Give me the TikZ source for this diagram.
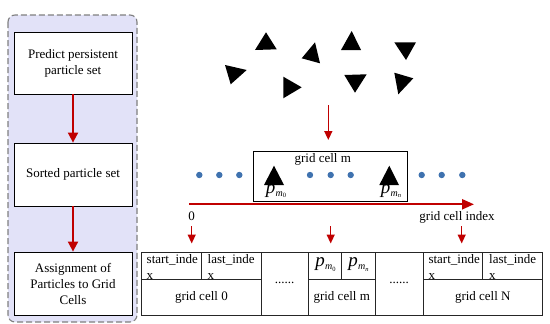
\documentclass[tikz,border=0pt]{standalone}
\usepackage{fontspec}
\setmainfont{Liberation Serif}
\usetikzlibrary{arrows.meta}
\definecolor{arrred}{HTML}{C00000}
\definecolor{panelfill}{HTML}{E2E2F8}
\definecolor{paneldash}{HTML}{7F7F7F}
\definecolor{dotblue}{HTML}{3F72AF}
\newcommand\pmlabel[1]{\textit{\fontsize{19}{19}\selectfont p}\kern0.3pt\raisebox{-3pt}{\textit{\fontsize{10}{10}\selectfont m}\kern0.2pt\raisebox{-1.5pt}{\fontsize{6.5}{6.5}\selectfont #1}}}
\begin{document}
\begin{tikzpicture}[x=1pt,y=-1pt,
  stepbox/.style={draw, line width=0.8pt, fill=white, minimum width=118pt, minimum height=62pt, align=center, font=\fontsize{13}{16}\selectfont, inner sep=2pt},
  redarrow/.style={draw=arrred, line width=1.8pt, -{Triangle[length=10pt,width=10pt]}},
  thinred/.style={draw=arrred, line width=1.4pt, -{Triangle[length=9pt,width=8pt]}},
  txt/.style={font=\fontsize{13}{16}\selectfont, inner sep=0pt},
  celltxt/.style={font=\fontsize{13}{16}\selectfont, inner sep=0pt, align=left, anchor=north west},
  tline/.style={draw=black!85, line width=0.8pt},
  pdot/.style={fill=dotblue},
  tri/.style={fill=black}
]
\useasboundingbox (0,0) rectangle (550,324);
% left panel
\draw[paneldash, fill=panelfill, dashed, dash pattern=on 6pt off 3pt, line width=1.1pt, rounded corners=7pt] (8,15) rectangle (137,322);
\node[stepbox] (b1) at (73,63) {Predict persistent\\particle set};
\node[stepbox, minimum height=63pt] (b2) at (73,174.5) {Sorted particle set};
\node[stepbox, minimum height=63pt] (b3) at (73,283.5) {Assignment of\\Particles to Grid\\Cells};
\draw[redarrow] (b1.south) -- (b2.north);
\draw[redarrow] (b2.south) -- (b3.north);
% scattered particles
\fill[tri] (255,50) -- (276.7,49.3) -- (266,32.3) -- cycle;
\fill[tri] (301.7,58.3) -- (315,42.3) -- (320,63.3) -- cycle;
\fill[tri] (341,50) -- (361,50) -- (351.7,31) -- cycle;
\fill[tri] (394.3,42.3) -- (416,42.3) -- (406,60) -- cycle;
\fill[tri] (225,65) -- (246.7,70) -- (230.7,84.3) -- cycle;
\fill[tri] (283.3,76.7) -- (301.7,87.3) -- (283.3,98.3) -- cycle;
\fill[tri] (344.3,75) -- (366.7,74.3) -- (355,92.7) -- cycle;
\fill[tri] (394.3,72.7) -- (413.3,78.3) -- (398.3,94.3) -- cycle;
\coordinate (topA) at (328.3,105);
\coordinate (topB) at (328.3,140);
\draw[thinred] (topA) -- (topB);
% grid cell m box
\node[draw, line width=0.8pt, minimum width=154.4pt, minimum height=50pt, inner sep=0pt] (gm) at (330.5,176.7) {};
\node[txt] (gmlab) at (322.8,159.5) {grid cell m};
\foreach \x/\n in {199.3/d1,219.3/d2,239.3/d3,310/d4,330.7/d5,350.7/d6,421.7/d7,441.7/d8,462.3/d9}
  \fill[pdot] (\x,175) circle (3.2pt);
\node[inner sep=0pt] (p0) at (276,191) {\pmlabel{0}};
\node[inner sep=0pt] (pn) at (391,191) {\pmlabel{\textit{n}}};
\fill[tri] (264,185) -- (284,185) -- (274,165.7) -- cycle;
\fill[tri] (379.3,185) -- (399,185) -- (389.3,165.7) -- cycle;
% axis
\coordinate (ax0) at (189,204.3);
\coordinate (ax1) at (474,204.3);
\draw[draw=arrred, line width=2.2pt, -{Triangle[length=12pt,width=10pt]}] (ax0) -- (ax1);
\node[txt] (zero) at (191.5,216.5) {0};
\node[txt] (gci) at (457,217.5) {grid cell index};
% down arrows
\foreach \x/\n in {191.7/a,330.7/b,461.7/c}{
  \coordinate (da\n) at (\x,226);
  \coordinate (db\n) at (\x,243.5);
  \draw[thinred] (da\n) -- (db\n);
}
% table
\draw[tline] (141.7,252.7) rectangle (542.3,315);
\foreach \x in {261,308.3,375,423.3} \draw[tline] (\x,252.7) -- (\x,315);
\foreach \x in {201,341.7,482.7} \draw[tline] (\x,252.7) -- (\x,279.3);
\draw[tline] (141.7,279.3) -- (261,279.3);
\draw[tline] (308.3,279.3) -- (375,279.3);
\draw[tline] (423.3,279.3) -- (542.3,279.3);
\node[celltxt] (s0) at (146.5,254.5) {start\_inde\\x};
\node[celltxt] (l0) at (207.5,254.5) {last\_inde\\x};
\node[celltxt] (sN) at (428.3,254.5) {start\_inde\\x};
\node[celltxt] (lN) at (489,254.5) {last\_inde\\x};
\node[inner sep=0pt] (tp0) at (325.5,264.5) {\pmlabel{0}};
\node[inner sep=0pt] (tpn) at (358.5,264.5) {\pmlabel{\textit{n}}};
\node[txt] (gc0) at (201.4,297.5) {grid cell 0};
\node[txt] (gcm) at (341.7,297.5) {grid cell m};
\node[txt] (gcN) at (482.8,297.5) {grid cell N};
\node[txt] (dots1) at (284.7,282.5) {......};
\node[txt] (dots2) at (399.2,282.5) {......};
\end{tikzpicture}
\end{document}
